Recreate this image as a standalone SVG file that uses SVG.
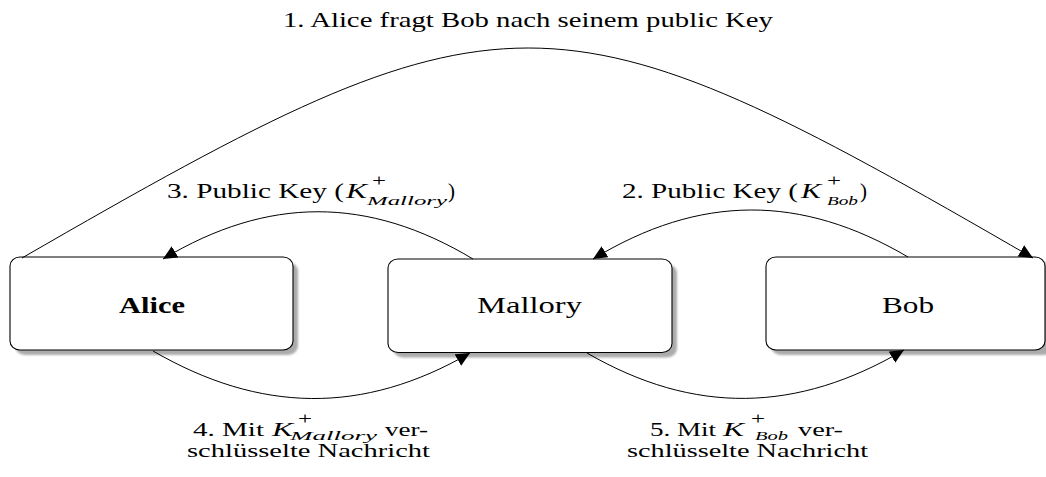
<svg xmlns="http://www.w3.org/2000/svg" width="1046" height="477" viewBox="0 0 1046 477">
  <defs>
    <filter id="soft" x="-10%" y="-10%" width="120%" height="130%">
      <feGaussianBlur stdDeviation="1.2"/>
    </filter>
    <marker id="tri" markerUnits="userSpaceOnUse" markerWidth="18" markerHeight="16" refX="14" refY="7" orient="auto">
      <path d="M0,0.5 L14,7 L0,13.5 z" fill="#000"/>
    </marker>
  </defs>
  <style>
    .shadow { fill: #ababab; filter: url(#soft); }
    .box { fill: #fff; stroke: #000; stroke-width: 1.1; }
    .edge { fill: none; stroke: #000; stroke-width: 1; marker-end: url(#tri); }
    text { font-family: "Liberation Serif", "Times New Roman", serif; fill: #000; }
    .lbl { font-size: 21px; }
    .lbl2 { font-size: 19px; }
    .node { font-size: 24px; }
    .bold { font-weight: bold; }
    .it { font-style: italic; }
    .sup { font-size: 16px; font-style: normal; }
    .sub { font-size: 13.5px; font-style: italic; }
    .sub2 { font-size: 12.5px; font-style: italic; }
  </style>

  <!-- participants -->
  <g id="alice">
    <rect class="shadow" x="15" y="262" width="283" height="93" rx="10" ry="9"/>
    <rect class="box" x="10" y="257" width="283" height="93" rx="10" ry="9"/>
    <text class="node bold" x="119" y="313" textLength="66" lengthAdjust="spacingAndGlyphs">Alice</text>
  </g>
  <g id="mallory">
    <rect class="shadow" x="393" y="264" width="284" height="93.5" rx="10" ry="9"/>
    <rect class="box" x="388" y="259" width="284" height="93.5" rx="10" ry="9"/>
    <text class="node" x="477" y="313" textLength="105" lengthAdjust="spacingAndGlyphs">Mallory</text>
  </g>
  <g id="bob">
    <rect class="shadow" x="771" y="262" width="283" height="93" rx="10" ry="9"/>
    <rect class="box" x="766" y="257" width="279" height="93" rx="10" ry="9"/>
    <text class="node" x="882" y="313" textLength="52" lengthAdjust="spacingAndGlyphs">Bob</text>
  </g>

  <!-- message arrows -->
  <g id="connectors">
    <path id="e1" class="edge" d="M22,258 C507,-22 550,-22 1033,258"/>
    <path id="e2" class="edge" d="M908,257 C801,194 700,194 593,259"/>
    <path id="e3" class="edge" d="M473,259 C368,196 268,196 163,259"/>
    <path id="e4" class="edge" d="M153,351 C260,413 363,415 470,353"/>
    <path id="e5" class="edge" d="M587,353 C694,415 797,413 904,350"/>
  </g>

  <!-- message labels: each math run is one text with positioned tspans -->
  <g id="label1">
    <text class="lbl" x="283" y="27" textLength="490" lengthAdjust="spacingAndGlyphs">1. Alice fragt Bob nach seinem public Key</text>
  </g>
  <g id="label2">
    <text class="lbl" y="198"><tspan x="622" textLength="176" lengthAdjust="spacingAndGlyphs">2. Public Key (</tspan><tspan class="it" x="801" textLength="20" lengthAdjust="spacingAndGlyphs">K</tspan><tspan class="sup" x="827" y="186" textLength="14" lengthAdjust="spacingAndGlyphs">+</tspan><tspan class="sub" x="827" y="205" textLength="31" lengthAdjust="spacingAndGlyphs">Bob</tspan><tspan x="860" y="198" textLength="7" lengthAdjust="spacingAndGlyphs">)</tspan></text>
  </g>
  <g id="label3">
    <text class="lbl" y="198"><tspan x="167" textLength="177" lengthAdjust="spacingAndGlyphs">3. Public Key (</tspan><tspan class="it" x="346" textLength="21" lengthAdjust="spacingAndGlyphs">K</tspan><tspan class="sup" x="372" y="186" textLength="14" lengthAdjust="spacingAndGlyphs">+</tspan><tspan class="sub" x="367" y="205" textLength="80" lengthAdjust="spacingAndGlyphs">Mallory</tspan><tspan x="448" y="198" textLength="7" lengthAdjust="spacingAndGlyphs">)</tspan></text>
  </g>
  <g id="label4">
    <text class="lbl2" y="435.5"><tspan x="193" textLength="71" lengthAdjust="spacingAndGlyphs">4. Mit</tspan><tspan class="it" x="272" textLength="21" lengthAdjust="spacingAndGlyphs">K</tspan><tspan class="sup" x="298" y="423.5" textLength="14" lengthAdjust="spacingAndGlyphs">+</tspan><tspan class="sub2" x="290" y="440" textLength="87" lengthAdjust="spacingAndGlyphs">Mallory</tspan><tspan x="385" y="435.5" textLength="43" lengthAdjust="spacingAndGlyphs">ver-</tspan></text>
    <text class="lbl2" x="187" y="456.5" textLength="243" lengthAdjust="spacingAndGlyphs">schlüsselte Nachricht</text>
  </g>
  <g id="label5">
    <text class="lbl2" y="435.5"><tspan x="650" textLength="66" lengthAdjust="spacingAndGlyphs">5. Mit</tspan><tspan class="it" x="723" textLength="21" lengthAdjust="spacingAndGlyphs">K</tspan><tspan class="sup" x="751" y="423.5" textLength="14" lengthAdjust="spacingAndGlyphs">+</tspan><tspan class="sub2" x="755" y="440" textLength="33" lengthAdjust="spacingAndGlyphs">Bob</tspan><tspan x="798" y="435.5" textLength="45" lengthAdjust="spacingAndGlyphs">ver-</tspan></text>
    <text class="lbl2" x="627" y="456.5" textLength="241" lengthAdjust="spacingAndGlyphs">schlüsselte Nachricht</text>
  </g>
</svg>
